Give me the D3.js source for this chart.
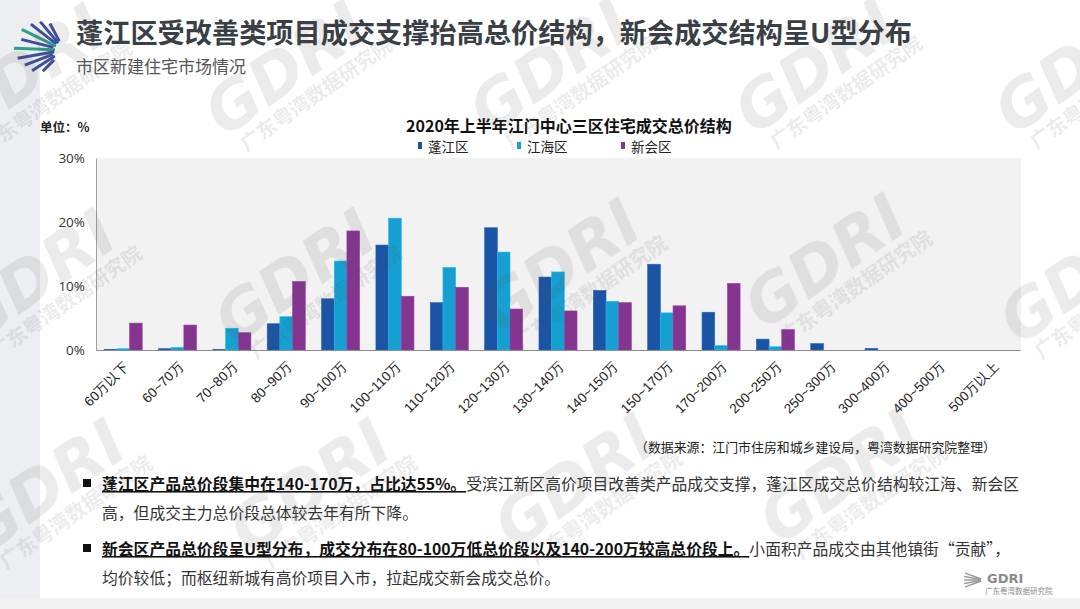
<!DOCTYPE html>
<html><head><meta charset="utf-8">
<script src="https://cdn.jsdelivr.net/npm/d3@7"></script>
<style>
html,body{margin:0;padding:0;background:#fff;}
svg{display:block;font-family:"Noto Sans CJK SC","Noto Sans",sans-serif;}
</style></head><body>
<svg id="c" width="1080" height="609"></svg>
<script>
const categories = ["60万以下","60~70万","70~80万","80~90万","90~100万","100~110万","110~120万","120~130万","130~140万","140~150万","150~170万","170~200万","200~250万","250~300万","300~400万","400~500万","500万以上"];
const seriesNames = ["蓬江区","江海区","新会区"];
const pengjiang = [0.1,0.2,0.1,4.1,8.0,16.4,7.4,19.1,11.4,9.3,13.4,5.9,1.7,1.0,0.26,0,0];
const jianghai  = [0.2,0.4,3.4,5.2,13.9,20.6,12.9,15.3,12.2,7.6,5.8,0.7,0.5,0,0,0,0];
const xinhui    = [4.2,3.9,2.7,10.7,18.6,8.4,9.8,6.4,6.1,7.4,6.9,10.4,3.2,0,0,0,0];
const yTicks = [0,10,20,30];
const colors = ["#1b54a5","#169fd0","#84358f"];

const svg = d3.select("#c");
svg.append("rect").attr("x",0).attr("y",0).attr("width",40).attr("height",609).attr("fill","#eceef1");
svg.append("rect").attr("x",0).attr("y",598).attr("width",1080).attr("height",11).attr("fill","#f2f2f2");

// logo rays
const F=[64,50];
const rays=[[62,10,30,"#3b4fa0"],[50,9,37,"#3b4fa0"],[38,10,42,"#3b4fa0"],[26,9,47,"#2f9e86"],[14,11,44,"#3b4fa0"],[2,9,50,"#2f9e86"],[-10,10,47,"#3b4fa0"],[-21,12,42,"#3b4fa0"],[-33,11,38,"#3b4fa0"],[-45,14,30,"#3b4fa0"]];
const lg=svg.append("g");
rays.forEach(r=>{const a=r[0]*Math.PI/180;const dx=-Math.cos(a),dy=-Math.sin(a);
  lg.append("line").attr("x1",F[0]+dx*r[1]).attr("y1",F[1]+dy*r[1]).attr("x2",F[0]+dx*r[2]).attr("y2",F[1]+dy*r[2])
   .attr("stroke",r[3]).attr("stroke-width",3).attr("stroke-linecap","butt");});

svg.append("text").attr("x",76).attr("y",43).attr("font-size",27.2).attr("font-weight",700).attr("fill","#3a3f45")
  .text("蓬江区受改善类项目成交支撑抬高总价结构，新会成交结构呈U型分布");
svg.append("text").attr("x",76).attr("y",73).attr("font-size",17).attr("fill","#555")
  .text("市区新建住宅市场情况");

const x0 = d3.scaleBand().domain(categories).range([96,1020]).paddingInner(0.3).paddingOuter(0.15);
const x1 = d3.scaleBand().domain(seriesNames).range([0,x0.bandwidth()]);
const y = d3.scaleLinear().domain([0,30]).range([350,158]);

svg.append("rect").attr("x",96).attr("y",y(30)).attr("width",925).attr("height",y(0)-y(30)).attr("fill","#f2f2f2");

const data = [pengjiang,jianghai,xinhui];
const g = svg.append("g");
categories.forEach((c,i)=>{
  seriesNames.forEach((s,j)=>{
    const v=data[j][i];
    if(v<=0) return;
    g.append("rect").attr("x",x0(c)+x1(s)).attr("y",y(v)).attr("width",x1.bandwidth()).attr("height",y(0)-y(v))
     .attr("fill",colors[j]).attr("stroke",d3.color(colors[j]).brighter(0.5)).attr("stroke-width",0.6);
  });
});

const ya = svg.append("g").attr("transform","translate(96,0)")
  .call(d3.axisLeft(y).tickValues(yTicks).tickFormat(d=>d+"%").tickSize(0).tickPadding(11));
ya.select(".domain").attr("stroke","#a0a0a0");
ya.selectAll("text").attr("font-size",13.5).attr("fill","#333").attr("font-family","'Open Sans','Noto Sans CJK SC',sans-serif");

const xa = svg.append("g").attr("transform","translate(0,350)")
  .call(d3.axisBottom(x0).tickSize(0).tickPadding(0));
xa.select(".domain").attr("stroke","#8c8c8c").attr("stroke-width",1.2);
xa.selectAll("text").attr("font-size",13.5).attr("fill","#222")
  .attr("text-anchor","end").attr("dy",0)
  .attr("transform","translate(7,17) rotate(-45)");

svg.append("text").attr("x",40).attr("y",132).attr("font-size",12.5).attr("font-weight",700).attr("fill","#222").text("单位：%");
svg.append("text").attr("x",569).attr("y",132).attr("text-anchor","middle").attr("font-size",16).attr("font-weight",700).attr("fill","#111")
  .text("2020年上半年江门中心三区住宅成交总价结构");

const legX=[418,517,621];
seriesNames.forEach((s,j)=>{
  svg.append("rect").attr("x",legX[j]).attr("y",142).attr("width",4).attr("height",7).attr("fill",colors[j]);
  svg.append("text").attr("x",legX[j]+10).attr("y",152).attr("font-size",13.5).attr("fill","#222").text(s);
});

svg.append("text").attr("x",635).attr("y",452).attr("font-size",12.9).attr("fill","#222")
  .text("（数据来源：江门市住房和城乡建设局，粤湾数据研究院整理）");

const bullets=[
  {y:490,bold:"蓬江区产品总价段集中在140-170万，占比达55%。",rest:"受滨江新区高价项目改善类产品成交支撑，蓬江区成交总价结构较江海、新会区",line2:"高，但成交主力总价段总体较去年有所下降。"},
  {y:555,bold:"新会区产品总价段呈U型分布，成交分布在80-100万低总价段以及140-200万较高总价段上。",rest:"小面积产品成交由其他镇街“贡献”，",line2:"均价较低；而枢纽新城有高价项目入市，拉起成交新会成交总价。"}
];
bullets.forEach(b=>{
  svg.append("rect").attr("x",83).attr("y",b.y-11).attr("width",8).attr("height",8).attr("fill","#111");
  const t=svg.append("text").attr("x",102).attr("y",b.y).attr("font-size",15.8).attr("fill","#333");
  t.append("tspan").attr("font-weight",700).attr("fill","#111").attr("text-decoration","underline").text(b.bold);
  t.append("tspan").text(b.rest);
  svg.append("text").attr("x",102).attr("y",b.y+29).attr("font-size",15.8).attr("fill","#333").text(b.line2);
});

const bl=svg.append("g");
[20,10,0,-10,-20].forEach(d=>{
  const a=d*Math.PI/180;bl.append("line").attr("x1",984-Math.cos(a)*3).attr("y1",580-Math.sin(a)*3)
   .attr("x2",984-Math.cos(a)*20).attr("y2",580-Math.sin(a)*20).attr("stroke","#9a9a9a").attr("stroke-width",1.5);});
svg.append("text").attr("x",987).attr("y",583).attr("font-size",13).attr("font-weight",700).attr("fill","#8a8a8a").attr("font-family","'DejaVu Sans',sans-serif").text("GDRI");
svg.append("text").attr("x",985).attr("y",594).attr("font-size",7.5).attr("fill","#8a8a8a").text("广东粤湾数据研究院");

// watermarks
const wm=svg.append("g").attr("pointer-events","none").attr("opacity",0.12);
const wpos=[[30,95],[290,92],[555,90],[820,90],[1080,90],[40,300],[300,300],[565,290],[830,285],[1085,300],[50,510],[315,510],[580,505],[845,500]];
wpos.forEach(p=>{
  const gg=wm.append("g").attr("transform",`translate(${p[0]},${p[1]}) rotate(-35)`);
  gg.append("text").attr("x",-80).attr("y",0).attr("font-size",64).attr("font-weight",700).attr("font-style","italic")
    .attr("font-family","'DejaVu Sans',sans-serif").attr("fill","#555").text("GDRI");
  gg.append("text").attr("x",-70).attr("y",24).attr("font-size",20).attr("font-weight",700).attr("fill","#555").text("广东粤湾数据研究院");
});
</script>
</body></html>
